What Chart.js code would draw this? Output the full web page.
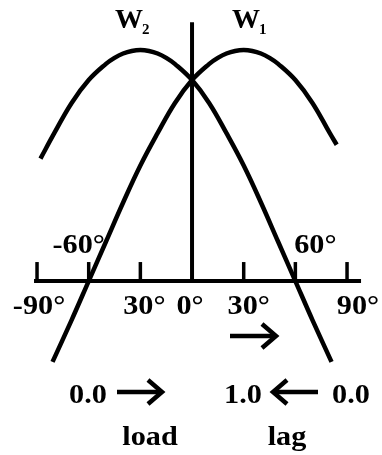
<!DOCTYPE html>
<html>
<head>
<meta charset="utf-8">
<script src="https://cdn.jsdelivr.net/npm/chart.js@4"></script>
<style>
  html, body { margin: 0; padding: 0; background: #fff; }
  #wrap { width: 382px; height: 455px; }
</style>
</head>
<body>
<div id="wrap"><canvas id="chart" width="382" height="455"></canvas></div>
<script>
// angles (degrees) and values
const anglesW1 = [-81, -70, -60, -50, -40, -30, -20, -10, 0, 10, 15, 20, 25, 30, 35, 40, 45, 50, 60, 70, 80, 84];
const valuesW1 = [-0.35, -0.17, 0.0, 0.17, 0.34, 0.5, 0.64, 0.77, 0.87, 0.94, 0.966, 0.985, 0.996, 1.0, 0.996, 0.985, 0.966, 0.94, 0.87, 0.77, 0.64, 0.59];
const anglesW2 = [-88, -80, -70, -60, -50, -45, -40, -35, -30, -25, -20, -15, -10, 0, 10, 20, 30, 40, 50, 60, 70, 81];
const valuesW2 = [0.53, 0.64, 0.77, 0.87, 0.94, 0.966, 0.985, 0.996, 1.0, 0.996, 0.985, 0.966, 0.94, 0.87, 0.77, 0.64, 0.5, 0.34, 0.17, 0.0, -0.17, -0.35];

const tickAngles = [-90, -60, -30, 0, 30, 60, 90];
const tickLabelsBelow = ["-90°", "", "30°", "0°", "30°", "", "90°"];
const tickLabelsAbove = ["", "-60°", "", "", "", "60°", ""];
const seriesNames = ["W1", "W2"];

const FONT = "bold 28px 'Liberation Serif', 'Times New Roman', serif";

function toPoints(xs, ys) {
    return xs.map((x, i) => ({ x: x, y: ys[i] }));
}

// draws the axis, ticks, labels and the little arrows
const decor = {
    id: "decor",
    afterDatasetsDraw(chart) {
        const ctx = chart.ctx;
        const xs = chart.scales.x;
        const ys = chart.scales.y;
        const y0 = ys.getPixelForValue(0);
        const x0 = xs.getPixelForValue(0);

        ctx.save();
        ctx.strokeStyle = "#000";
        ctx.fillStyle = "#000";
        ctx.lineCap = "butt";

        // horizontal axis
        ctx.lineWidth = 4;
        ctx.beginPath();
        ctx.moveTo(xs.getPixelForValue(-90) - 3, y0);
        ctx.lineTo(xs.getPixelForValue(90) + 14, y0);
        ctx.stroke();

        // vertical axis
        ctx.beginPath();
        ctx.moveTo(x0, ys.getPixelForValue(1.12));
        ctx.lineTo(x0, y0);
        ctx.stroke();

        // ticks
        ctx.lineWidth = 3.5;
        tickAngles.forEach(a => {
            if (a === 0) return;
            const px = xs.getPixelForValue(a);
            ctx.beginPath();
            ctx.moveTo(px, y0);
            ctx.lineTo(px, y0 - 19);
            ctx.stroke();
        });

        // stretched text, the original lettering is a bit wider
        function text(str, x, y) {
            ctx.save();
            ctx.translate(x, y);
            ctx.scale(1.08, 1);
            ctx.fillText(str, 0, 0);
            ctx.restore();
        }

        ctx.font = FONT;
        ctx.textBaseline = "alphabetic";
        ctx.textAlign = "center";
        const belowShift = { "-90": 2, "-30": 4, "0": -2, "30": 5, "90": 11 };
        const aboveShift = { "-60": -10, "60": 20 };
        tickAngles.forEach((a, i) => {
            const px = xs.getPixelForValue(a);
            if (tickLabelsBelow[i]) {
                text(tickLabelsBelow[i], px + belowShift[a], y0 + 33);
            }
            if (tickLabelsAbove[i]) {
                text(tickLabelsAbove[i], px + aboveShift[a], y0 - 28);
            }
        });

        // series names
        function nameLabel(name, x) {
            ctx.textAlign = "left";
            ctx.font = "bold 28px 'Liberation Serif', 'Times New Roman', serif";
            ctx.fillText(name.charAt(0), x, 28);
            const w = ctx.measureText(name.charAt(0)).width;
            ctx.font = "bold 15px 'Liberation Serif', 'Times New Roman', serif";
            ctx.fillText(name.slice(1), x + w - 1, 34);
        }
        nameLabel(seriesNames[1], 115);
        nameLabel(seriesNames[0], 232);

        // arrows
        function arrow(x1, x2, y) {
            const dir = Math.sign(x2 - x1);
            ctx.lineWidth = 4.5;
            ctx.beginPath();
            ctx.moveTo(x1, y);
            ctx.lineTo(x2 - dir * 2, y);
            ctx.stroke();
            ctx.beginPath();
            ctx.moveTo(x2 - dir * 14, y - 12);
            ctx.lineTo(x2, y);
            ctx.lineTo(x2 - dir * 14, y + 12);
            ctx.stroke();
        }
        arrow(230, 276, 336);
        arrow(117, 162, 392);
        arrow(318, 273, 392);

        ctx.font = FONT;
        ctx.textAlign = "center";
        text("0.0", 88, 403);
        text("1.0", 243, 403);
        text("0.0", 351, 403);
        text("load", 150, 445);
        text("lag", 287, 445);

        ctx.restore();
    }
};

new Chart(document.getElementById("chart"), {
    type: "line",
    data: {
        datasets: [
            {
                label: seriesNames[0],
                data: toPoints(anglesW1, valuesW1),
                borderColor: "#000",
                borderWidth: 4.5,
                pointRadius: 0,
                tension: 0.4,
                fill: false
            },
            {
                label: seriesNames[1],
                data: toPoints(anglesW2, valuesW2),
                borderColor: "#000",
                borderWidth: 4.5,
                pointRadius: 0,
                tension: 0.4,
                fill: false
            }
        ]
    },
    options: {
        responsive: false,
        animation: false,
        layout: { padding: 0 },
        plugins: { legend: { display: false }, tooltip: { enabled: false } },
        scales: {
            x: { type: "linear", min: -111.5, max: 110.3, display: false },
            y: { type: "linear", min: -0.753, max: 1.2165, display: false }
        }
    },
    plugins: [decor]
});
</script>
</body>
</html>
